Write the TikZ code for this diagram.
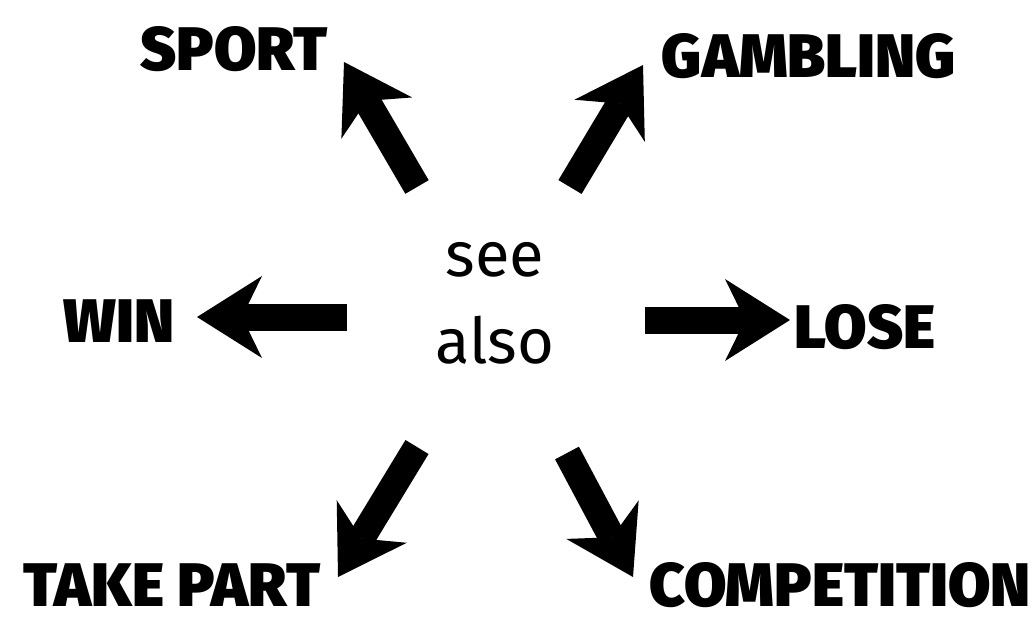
\documentclass[tikz,border=0pt]{standalone}
\usepackage{fontspec}
\usepackage{tikz}
\usetikzlibrary{arrows.meta,positioning}
\newfontfamily\labelfont{Fira Sans Black}
\newfontfamily\seefont{Fira Sans}

\begin{document}
\begin{tikzpicture}[x=0.02cm,y=-0.02cm,
  word/.style={font=\labelfont\fontsize{35}{40}\selectfont,anchor=base,inner sep=0pt},
  fatarrow/.style={line width=0.54cm,-{Stealth[length=1.3cm,width=1.64cm,inset=0.4cm,line width=0pt]}}]
\useasboundingbox (0,0) rectangle (1033,623);
% --- centre ---
\node[font=\seefont\fontsize{36}{49}\selectfont,align=center,anchor=base,inner sep=0pt] (see) at (495,363) {see\\also};
% --- labels ---
\node[word] (sport) at (234,70) {SPORT};
\node[word] (gambling) at (809,77) {GAMBLING};
\node[word] (win) at (119,342) {WIN};
\node[word] (lose) at (865,348) {LOSE};
\node[word] (takepart) at (172,606) {TAKE PART};
\node[word] (competition) at (840,606) {COMPETITION};
% --- arrows: tail (t) and head (h) ---
\coordinate (sport-t) at (417,187);       \coordinate (sport-h) at (344,62);
\coordinate (gambling-t) at (570,187);    \coordinate (gambling-h) at (643,65);
\coordinate (win-t) at (347,317);         \coordinate (win-h) at (197,317);
\coordinate (lose-t) at (645,320);        \coordinate (lose-h) at (790,320);
\coordinate (takepart-t) at (417,447);    \coordinate (takepart-h) at (338,577);
\coordinate (competition-t) at (567,453); \coordinate (competition-h) at (633,577);
\foreach \n in {sport,gambling,win,lose,takepart,competition}
  \draw[fatarrow] (\n-t) -- (\n-h);
\end{tikzpicture}
\end{document}
